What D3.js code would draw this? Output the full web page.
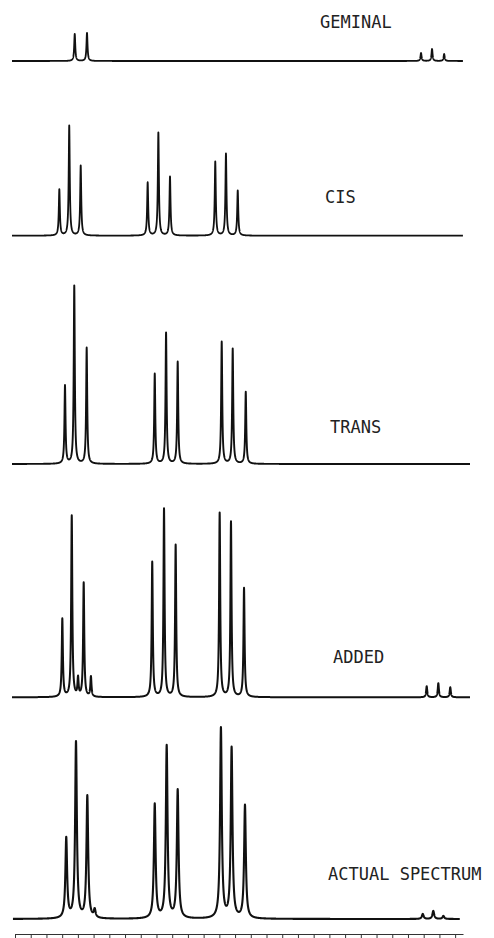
<!DOCTYPE html>
<html>
<head>
<meta charset="UTF-8">
<script src="https://d3js.org/d3.v7.min.js"></script>
<style>
  body { margin:0; background:#fff; }
  #svg { display:block; }
  .label { font-family:"DejaVu Sans Mono", monospace; font-size:17px; fill:#222; }
  .spec { fill:none; stroke:#111; stroke-linejoin:round; }
  .axis path, .axis line { stroke:#333; }
</style>
<title>NMR spectrum: geminal, cis, trans, added and actual</title>
</head>
<body>
<svg id="svg" width="494" height="938"></svg>
<script>
// ---- data (positions in Hz-like units, heights in intensity units) ----
const geminalPos = [38, 45.8, 258.3, 265.3, 273];
const geminalHt  = [27, 28, 8, 12, 7];

const cisPos = [28.2, 34.5, 41.8, 84.4, 91.2, 98.6, 127.4, 134.2, 141.7];
const cisHt  = [46, 110, 70, 53, 103, 59, 74, 82, 45];

const transPos = [31.8, 37.7, 45.6, 88.9, 96.1, 103.5, 131.5, 138.5, 146.8];
const transHt  = [78, 178, 116, 90, 131, 102, 122, 115, 72];

const addedPos = [30.1, 36.1, 40.1, 43.7, 48.3, 87.3, 94.8, 102.2, 130.2, 137.4, 145.7, 261.9, 269.3, 276.9];
const addedHt  = [78, 181, 18, 114, 20, 135, 188, 152, 184, 175, 109, 11, 14, 10];

const actualPos = [32.6, 38.8, 46.0, 50.7, 88.9, 96.5, 103.5, 131.0, 137.8, 146.3, 259.4, 266.1, 272.5];
const actualHt  = [80, 176, 122, 8, 114, 172, 128, 190, 170, 113, 5, 8, 3];

const labels = ["GEMINAL", "CIS", "TRANS", "ADDED", "ACTUAL SPECTRUM"];
const axisTicks = d3.range(0, 290, 10);

// ---- layout ----
const svg = d3.select("svg#svg");
const x = d3.scaleLinear().domain([0, 285]).range([15, 463]);
const y = d3.scaleLinear().domain([0, 200]).range([0, -200]);

const panels = [
  {pos: geminalPos, ht: geminalHt, base: 61,    from: -1.9, to: 285,   g: 0.40, sw: 1.8, lx: 320, ly: 28},
  {pos: cisPos,     ht: cisHt,     base: 235.7, from: -1.9, to: 285,   g: 0.40, sw: 1.8, lx: 325, ly: 203},
  {pos: transPos,   ht: transHt,   base: 464,   from: -1.9, to: 289.5, g: 0.40, sw: 1.9, lx: 330, ly: 433},
  {pos: addedPos,   ht: addedHt,   base: 697.3, from: -1.9, to: 289.5, g: 0.42, sw: 2.0, lx: 333, ly: 663},
  {pos: actualPos,  ht: actualHt,  base: 919,   from: -1.3, to: 283,   g: 0.65, sw: 2.1, lx: 328, ly: 880}
];

const lineGen = d3.line()
  .x(d => x(d[0]))
  .y(d => y(d[1]));

panels.forEach((p, i) => {
  // sample the spectrum: lorentzian lines at each read peak
  let us = d3.range(p.from, p.to, 0.05).concat(p.pos);
  us.sort((a, b) => a - b);
  const pts = us.map(u => {
    let s = 0;
    p.pos.forEach((c, k) => {
      s += p.ht[k] * p.g * p.g / ((u - c) * (u - c) + p.g * p.g);
    });
    return [u, s];
  });

  const g = svg.append("g").attr("transform", "translate(0," + p.base + ")");
  g.append("path")
    .datum(pts)
    .attr("class", "spec")
    .attr("stroke-width", p.sw)
    .attr("d", lineGen);

  svg.append("text")
    .attr("class", "label")
    .attr("x", p.lx)
    .attr("y", p.ly)
    .text(labels[i]);
});

// frequency scale along the bottom
svg.append("g")
  .attr("class", "axis")
  .attr("transform", "translate(0,934)")
  .call(d3.axisBottom(x).tickValues(axisTicks).tickSize(4).tickSizeOuter(0).tickFormat(""));
</script>
</body>
</html>
